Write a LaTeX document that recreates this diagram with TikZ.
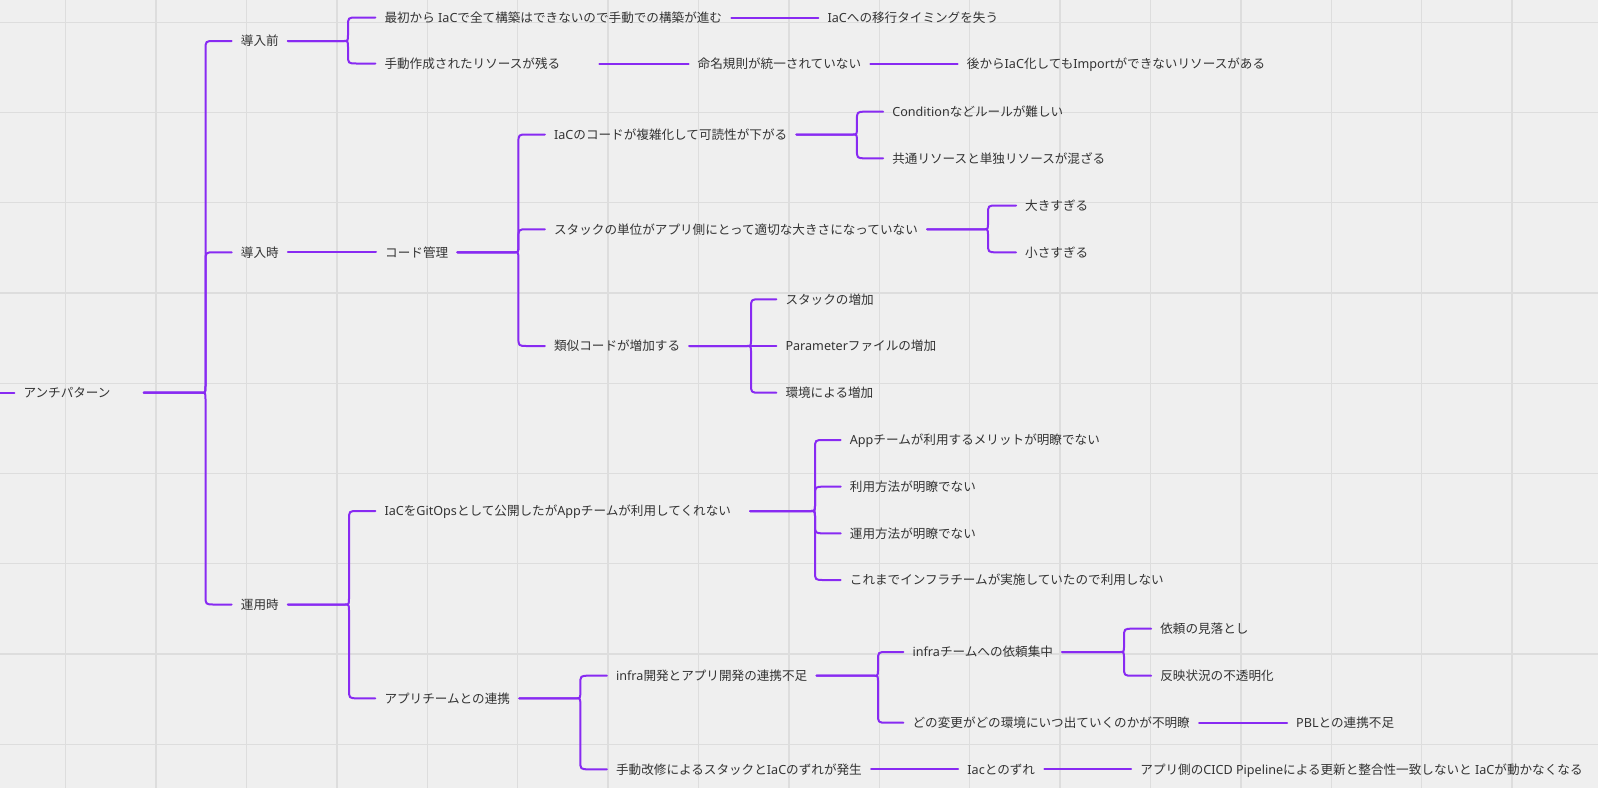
\documentclass[tikz,border=0pt]{standalone}
\usepackage{fontspec}
\setmainfont{Noto Sans CJK JP}
\newfontfamily\latf{Noto Sans}
\newcommand\la[1]{{\latf #1}}
\usetikzlibrary{calc}
\definecolor{bgc}{HTML}{EFEFEF}
\definecolor{gridc}{HTML}{DDDDDD}
\definecolor{linec}{RGB}{136,42,242}
\definecolor{txtc}{HTML}{333333}
\tikzset{
  lbl/.style={anchor=west, inner xsep=9pt, inner ysep=0pt, text height=9.6pt, text depth=0pt,
    font=\fontsize{12.6pt}{15pt}\selectfont, text=txtc},
  conn/.style={draw=linec, line width=2pt, line cap=round, line join=round},
  gridline/.style={draw=gridc, line width=1.3pt}
}
\newcommand\bup[3]{\draw[conn] (#1.east) -- ($(#2 |- #1.east)+(-4pt,0pt)$) .. controls (#2 |- #1.east) .. ($(#2 |- #1.east)+(0pt,7pt)$) -- ($(#2 |- #3.west)+(0pt,-9pt)$) .. controls (#2 |- #3.west) .. ($(#2 |- #3.west)+(9pt,0pt)$) -- (#3.west);}
\newcommand\bdn[3]{\draw[conn] (#1.east) -- ($(#2 |- #1.east)+(-4pt,0pt)$) .. controls (#2 |- #1.east) .. ($(#2 |- #1.east)+(0pt,-7pt)$) -- ($(#2 |- #3.west)+(0pt,9pt)$) .. controls (#2 |- #3.west) .. ($(#2 |- #3.west)+(9pt,0pt)$) -- (#3.west);}
\begin{document}
\begin{tikzpicture}[x=1pt,y=-1pt]
\fill[bgc] (0,0) rectangle (1598,788);
\useasboundingbox (0,0) rectangle (1598,788);
\foreach \k in {0,...,16} \draw[gridline] ({65.7+90.4*\k},0) -- ({65.7+90.4*\k},788);
\foreach \k in {0,...,8} \draw[gridline] (0,{22.3+90.25*\k}) -- (1598,{22.3+90.25*\k});

% bracket x positions
\coordinate (b0) at (205.5,0);
\coordinate (b1) at (348,0);
\coordinate (b21) at (518.4,0);
\coordinate (b211) at (856.9,0);
\coordinate (b212) at (988,0);
\coordinate (b213) at (751,0);
\coordinate (b3) at (349,0);
\coordinate (b31) at (815,0);
\coordinate (b32) at (580.3,0);
\coordinate (b321) at (878,0);
\coordinate (b3211) at (1124,0);
\coordinate (lstub) at (0,392.7);

% nodes
\node[lbl] (root) at (14.3,392.7) {アンチパターン\hspace*{24pt}};
\node[lbl] (n1) at (231.7,41) {導入前};
\node[lbl] (n2) at (231.7,252.3) {導入時};
\node[lbl] (n3) at (231.7,604.5) {運用時};
\node[lbl] (n11) at (375.3,17.5) {最初から\la{ IaC}で全て構築はできないので手動での構築が進む};
\node[lbl] (n111) at (818.4,17.5) {\la{IaC}への移行タイミングを失う};
\node[lbl] (n12) at (375.3,63.5) {手動作成されたリソースが残る\hspace*{30pt}};
\node[lbl] (n121) at (688.5,63.5) {命名規則が統一されていない};
\node[lbl] (n1211) at (957.7,63.5) {後から\la{IaC}化しても\la{Import}ができないリソースがある};
\node[lbl] (n21) at (376,252.3) {コード管理};
\node[lbl] (n211) at (544.9,134.5) {\la{IaC}のコードが複雑化して可読性が下がる};
\node[lbl] (n2111) at (883.1,111.7) {\la{Condition}などルールが難しい};
\node[lbl] (n2112) at (883.1,158.3) {共通リソースと単独リソースが混ざる};
\node[lbl] (n212) at (544.9,229.3) {スタックの単位がアプリ側にとって適切な大きさになっていない};
\node[lbl] (n2121) at (1016,205.5) {大きすぎる};
\node[lbl] (n2122) at (1016,252.3) {小さすぎる};
\node[lbl] (n213) at (544.9,346) {類似コードが増加する};
\node[lbl] (n2131) at (776.3,299.3) {スタックの増加};
\node[lbl] (n2132) at (776.3,346) {\la{Parameter}ファイルの増加};
\node[lbl] (n2133) at (776.3,392.7) {環境による増加};
\node[lbl] (n31) at (375.3,511) {\la{IaC}を\la{GitOps}として公開したが\la{App}チームが利用してくれない\hspace*{10pt}};
\node[lbl] (n311) at (840.7,440) {\la{App}チームが利用するメリットが明瞭でない};
\node[lbl] (n312) at (840.7,486.7) {利用方法が明瞭でない};
\node[lbl] (n313) at (840.7,533.3) {運用方法が明瞭でない};
\node[lbl] (n314) at (840.7,580) {これまでインフラチームが実施していたので利用しない};
\node[lbl] (n32) at (375.3,698.3) {アプリチームとの連携};
\node[lbl] (n321) at (606.9,675.7) {\la{infra}開発とアプリ開発の連携不足};
\node[lbl] (n3211) at (903.4,652) {\la{infra}チームへの依頼集中};
\node[lbl] (n32111) at (1151.1,628.7) {依頼の見落とし};
\node[lbl] (n32112) at (1151.1,675.7) {反映状況の不透明化};
\node[lbl] (n3212) at (903.4,722.7) {どの変更がどの環境にいつ出ていくのかが不明瞭};
\node[lbl] (n32121) at (1287,722.7) {\la{PBL}との連携不足};
\node[lbl] (n322) at (606.9,769.3) {手動改修によるスタックと\la{IaC}のずれが発生};
\node[lbl] (n3221) at (958.2,769.3) {\la{Iac}とのずれ};
\node[lbl] (n32211) at (1131.2,769.3) {アプリ側の\la{CICD Pipeline}による更新と整合性一致しないと\la{ IaC}が動かなくなる};

% connectors
\draw[conn] (lstub) -- (root.west);
\bup{root}{b0}{n1}
\bup{root}{b0}{n2}
\bdn{root}{b0}{n3}
\bup{n1}{b1}{n11}
\bdn{n1}{b1}{n12}
\draw[conn] (n11.east) -- (n111.west);
\draw[conn] (n12.east) -- (n121.west);
\draw[conn] (n121.east) -- (n1211.west);
\draw[conn] (n2.east) -- (n21.west);
\bup{n21}{b21}{n211}
\bup{n21}{b21}{n212}
\bdn{n21}{b21}{n213}
\bup{n211}{b211}{n2111}
\bdn{n211}{b211}{n2112}
\bup{n212}{b212}{n2121}
\bdn{n212}{b212}{n2122}
\bup{n213}{b213}{n2131}
\draw[conn] (n213.east) -- (n2132.west);
\bdn{n213}{b213}{n2133}
\bup{n3}{b3}{n31}
\bdn{n3}{b3}{n32}
\bup{n31}{b31}{n311}
\bup{n31}{b31}{n312}
\bdn{n31}{b31}{n313}
\bdn{n31}{b31}{n314}
\bup{n32}{b32}{n321}
\bdn{n32}{b32}{n322}
\bup{n321}{b321}{n3211}
\bdn{n321}{b321}{n3212}
\bup{n3211}{b3211}{n32111}
\bdn{n3211}{b3211}{n32112}
\draw[conn] (n3212.east) -- (n32121.west);
\draw[conn] (n322.east) -- (n3221.west);
\draw[conn] (n3221.east) -- (n32211.west);
\end{tikzpicture}
\end{document}
